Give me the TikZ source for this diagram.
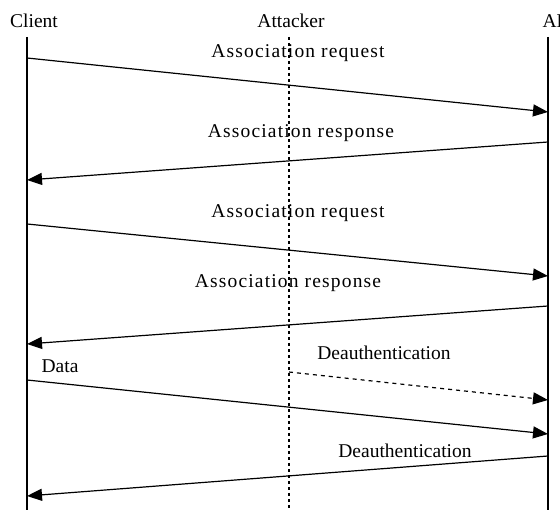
\documentclass[tikz,border=0pt]{standalone}
\usepackage{fontspec}
\setmainfont{Liberation Serif}
\usetikzlibrary{arrows.meta}

\begin{document}
\begin{tikzpicture}[x=1pt,y=-1pt,
  actor/.style={font=\fontsize{19.5}{23}\selectfont,inner sep=0pt},
  msglabel/.style={font=\fontsize{19.5}{23}\selectfont,inner sep=0pt},
  spaced/.style={font=\fontsize{19.5}{23}\selectfont\addfontfeatures{LetterSpace=6}},
  life/.style={line width=1.6pt},
  attackline/.style={line width=1.6pt,dash pattern=on 3pt off 3pt},
  msg/.style={line width=1.2pt,-{Triangle[length=15pt,width=12pt]}},
  fakemsg/.style={msg,dash pattern=on 4pt off 4pt},
]
\useasboundingbox (0,0) rectangle (560,510);

% === Actors ===
\node[actor] (client) at (34,21) {Client};
\node[actor] (attacker) at (291,21) {Attacker};
\node[actor] (ap) at (555,21) {AP};

% === Lifelines ===
\coordinate (ctop) at (27,37);
\coordinate (cbot) at (27,510);
\coordinate (atop) at (289,37);
\coordinate (abot) at (289,510);
\coordinate (ptop) at (548,37);
\coordinate (pbot) at (548,510);
\draw[life] (ctop) -- (cbot);
\draw[attackline] (atop) -- (abot);
\draw[life] (ptop) -- (pbot);

% === Message end points ===
\coordinate (c1) at (27,58);   \coordinate (p1) at (548,112);
\coordinate (p2) at (548,142); \coordinate (c2) at (27,180);
\coordinate (c3) at (27,224);  \coordinate (p3) at (548,276);
\coordinate (p4) at (548,306); \coordinate (c4) at (27,344);
\coordinate (a5) at (289,372); \coordinate (p5) at (548,400);
\coordinate (c6) at (27,380);  \coordinate (p6) at (548,434);
\coordinate (p7) at (548,456); \coordinate (c7) at (27,496);

% === Messages ===
\draw[msg] (c1) -- (p1);
\node[msglabel,spaced] (req1) at (298,53) {Association request};
\draw[msg] (p2) -- (c2);
\node[msglabel,spaced] (resp1) at (301,133) {Association response};
\draw[msg] (c3) -- (p3);
\node[msglabel,spaced] (req2) at (298,213) {Association request};
\draw[msg] (p4) -- (c4);
\node[msglabel,spaced] (resp2) at (288,283) {Association response};

% attacker injects a forged frame
\draw[fakemsg] (a5) -- (p5);
\node[msglabel] (deauth1) at (384,353) {Deauthentication};
\draw[msg] (c6) -- (p6);
\node[msglabel] (data) at (60,366) {Data};
\draw[msg] (p7) -- (c7);
\node[msglabel] (deauth2) at (405,451) {Deauthentication};

\end{tikzpicture}
\end{document}
